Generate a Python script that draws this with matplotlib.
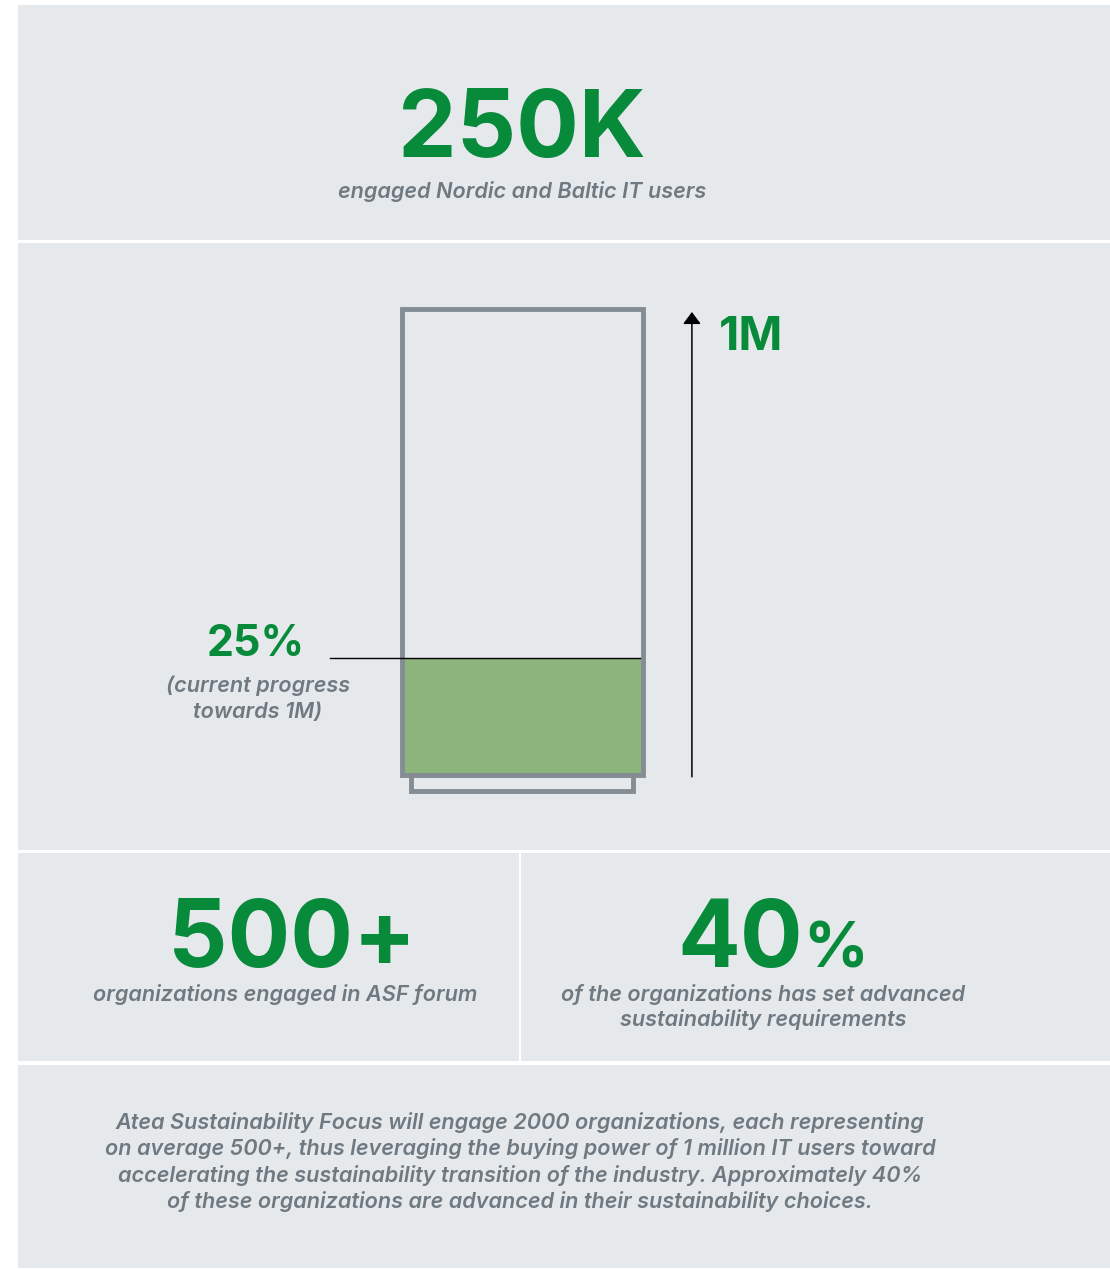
import matplotlib
matplotlib.use("Agg")
import matplotlib.pyplot as plt
from matplotlib import font_manager as fm
from matplotlib.patches import Rectangle

# data
top_value = "250K"
top_caption = "engaged Nordic and Baltic IT users"
goal_label = "1M"
progress = 0.25
progress_label = "25%"
progress_caption = ["(current progress", "towards 1M)"]
stat_values = ["500+", "40"]
stat_suffix = ["", "%"]
stat_captions = [["organizations engaged in ASF forum"],
                 ["of the organizations has set advanced", "sustainability requirements"]]
footer_lines = [
    "Atea Sustainability Focus will engage 2000 organizations, each representing",
    "on average 500+, thus leveraging the buying power of 1 million IT users toward",
    "accelerating the sustainability transition of the industry. Approximately 40%",
    "of these organizations are advanced in their sustainability choices.",
]

# colours
GREEN = "#078A3A"
FILL = "#8CB47C"
OUTLINE = "#848D93"
GRAY_TEXT = "#6F7981"
PANEL = "#E5E9EC"

# pick a family that has an italic face
def has_italic(name):
    return any(f.name == name and f.style == "italic" for f in fm.fontManager.ttflist)

ITALIC_FAMILY = next((n for n in ["Inter", "Roboto", "Open Sans", "Lato", "Noto Sans"] if has_italic(n)), "DejaVu Sans")
BOLD_FAMILY = "Inter"
CAP_SIZE = 15.6

W, H = 1110, 1269
fig = plt.figure(figsize=(W / 100, H / 100), dpi=100)
fig.patch.set_facecolor("white")

# page axes in pixel coordinates
page = fig.add_axes([0, 0, 1, 1])
page.set_xlim(0, W)
page.set_ylim(H, 0)
page.axis("off")

# panels
for x0, y0, x1, y1 in [(18, 5, W, 240), (18, 243, W, 850), (18, 853, 519, 1061),
                       (521, 853, W, 1061), (18, 1065, W, 1268)]:
    page.add_patch(Rectangle((x0, y0), x1 - x0, y1 - y0, color=PANEL, lw=0))

def big(x, y, s, size, ha="center"):
    page.text(x, y, s, color=GREEN, fontsize=size, fontweight="bold", family=BOLD_FAMILY,
              ha=ha, va="baseline")

def caption(x, y, s, size=CAP_SIZE):
    page.text(x, y, s, color=GRAY_TEXT, fontsize=size, fontweight="semibold", style="italic",
              family=ITALIC_FAMILY, ha="center", va="baseline")

# top panel
big(522, 157, top_value, 67)
caption(522, 198, top_caption)

# progress labels
big(256, 656, progress_label, 31)
for i, line in enumerate(progress_caption):
    caption(258, 692 + i * 26, line)
big(719, 350, goal_label, 34, ha="left")

# bottom stats
big(292, 967, stat_values[0] + stat_suffix[0], 67)
for i, line in enumerate(stat_captions[0]):
    caption(285, 1001 + i * 25, line)
big(677, 967, stat_values[1], 67, ha="left")
big(803, 967, stat_suffix[1], 46, ha="left")
for i, line in enumerate(stat_captions[1]):
    caption(763, 1001 + i * 25, line)

# footer
for i, line in enumerate(footer_lines):
    caption(520, 1129 + i * 26.4, line)

# progress bar
ax = fig.add_axes([401.5 / W, (H - 774.5) / H, 241 / W, 465.5 / H])
ax.set_xlim(0, 1)
ax.set_ylim(0, 1)
ax.axis("off")
ax.patch.set_alpha(0)

ax.bar(0.5, progress, width=1, color=FILL, lw=0)
ax.bar(0.5, 1, width=1, fill=False, edgecolor=OUTLINE, lw=3.5, clip_on=False)
ax.bar(0.5, -0.0344, width=0.921, fill=False, edgecolor=OUTLINE, lw=3.5, clip_on=False)
ax.plot([-0.297, 0.99], [progress, progress], color="black", lw=1, clip_on=False)

ax.annotate("", xy=(1.205, 0.9935), xytext=(1.205, -0.005), annotation_clip=False,
            arrowprops=dict(arrowstyle="-|>,head_length=0.4,head_width=0.3", color="black",
                            lw=1.1, mutation_scale=18, shrinkA=0, shrinkB=0))

fig.savefig("out.png", dpi=100)
